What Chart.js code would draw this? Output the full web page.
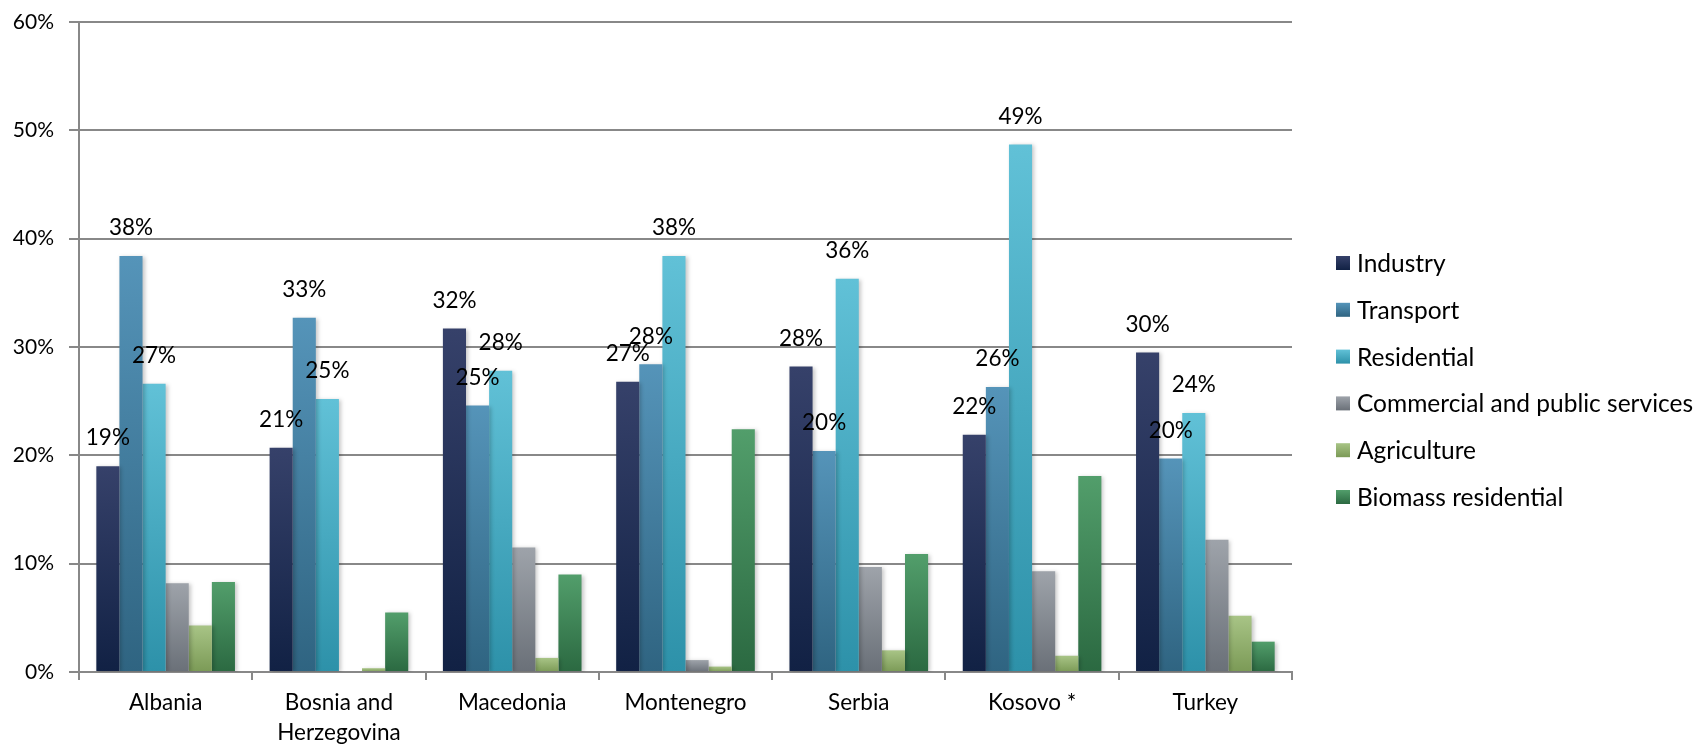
<!DOCTYPE html>
<html>
<head>
<meta charset="utf-8">
<script src="https://cdn.jsdelivr.net/npm/chart.js@4.4.0/dist/chart.umd.min.js"></script>
<style>
    html, body { margin: 0; padding: 0; background: #ffffff; }
    #wrap { width: 1702px; height: 750px; }
</style>
</head>
<body>
<div id="wrap"><canvas id="sectorChart" width="1702" height="750"></canvas></div>
<script>
// Share of final energy consumption by sector (%)
const countries = ['Albania', ['Bosnia and', 'Herzegovina'], 'Macedonia', 'Montenegro', 'Serbia', 'Kosovo *', 'Turkey'];

const industry    = [19.0, 20.7, 31.7, 26.8, 28.2, 21.9, 29.5];
const transport   = [38.4, 32.7, 24.6, 28.4, 20.4, 26.3, 19.7];
const residential = [26.6, 25.2, 27.8, 38.4, 36.3, 48.7, 23.9];
const commercial  = [8.2, 0.0, 11.5, 1.1, 9.7, 9.3, 12.2];
const agriculture = [4.3, 0.35, 1.3, 0.5, 2.0, 1.5, 5.2];
const biomass     = [8.3, 5.5, 9.0, 22.4, 10.9, 18.1, 2.8];

const yTicks = [0, 10, 20, 30, 40, 50, 60];

const FONT = 'Lato, "Open Sans", sans-serif';
const GRID = '#888888';

// top / bottom colours of each series gradient
const seriesStyle = [
    { label: 'Industry', data: industry, top: '#36416a', bottom: '#112144', labelled: true },
    { label: 'Transport', data: transport, top: '#5594b9', bottom: '#2f6481', labelled: true },
    { label: 'Residential', data: residential, top: '#61c1d7', bottom: '#2d91a9', labelled: true },
    { label: 'Commercial and public services', data: commercial, top: '#9ea3aa', bottom: '#6a7078', labelled: false },
    { label: 'Agriculture', data: agriculture, top: '#a8c486', bottom: '#7b9a56', labelled: false },
    { label: 'Biomass residential', data: biomass, top: '#529e6b', bottom: '#2b6941', labelled: false }
];

// vertical gradient per bar, from bar top to the zero line
function barGradient(top, bottom) {
    return function(context) {
        const chart = context.chart;
        if (!chart.chartArea || context.type !== 'data') return bottom;
        const y = chart.scales.y;
        const y0 = y.getPixelForValue(0);
        const y1 = y.getPixelForValue(context.raw);
        if (!isFinite(y1) || Math.abs(y0 - y1) < 1) return bottom;
        const g = chart.ctx.createLinearGradient(0, y1, 0, y0);
        g.addColorStop(0, top);
        g.addColorStop(1, bottom);
        return g;
    };
}

// soft drop shadow behind the bars
const barShadow = {
    id: 'barShadow',
    beforeDatasetsDraw(chart) {
        const ctx = chart.ctx;
        ctx.save();
        ctx.shadowColor = 'rgba(0, 0, 0, 0.22)';
        ctx.shadowBlur = 4;
        ctx.shadowOffsetX = 2;
        ctx.shadowOffsetY = 1;
    },
    afterDatasetsDraw(chart) {
        chart.ctx.restore();
    }
};

// percent labels above the first three series
const valueLabels = {
    id: 'valueLabels',
    afterDatasetsDraw(chart) {
        const ctx = chart.ctx;
        ctx.save();
        ctx.font = '22.5px ' + FONT;
        ctx.fillStyle = '#000000';
        ctx.textAlign = 'center';
        ctx.textBaseline = 'middle';
        chart.data.datasets.forEach((ds, i) => {
            if (!seriesStyle[i].labelled) return;
            chart.getDatasetMeta(i).data.forEach((bar, j) => {
                ctx.fillText(Math.round(ds.data[j]) + '%', bar.x, bar.y - 28);
            });
        });
        ctx.restore();
    }
};

// legend drawn on the right side
const sideLegend = {
    id: 'sideLegend',
    afterDraw(chart) {
        const ctx = chart.ctx;
        const x = 1336, y0 = 263, step = 46.8, box = 14;
        ctx.save();
        ctx.font = '24.5px ' + FONT;
        ctx.textAlign = 'left';
        ctx.textBaseline = 'middle';
        seriesStyle.forEach((s, i) => {
            const y = y0 + i * step;
            const g = ctx.createLinearGradient(0, y - box / 2, 0, y + box / 2);
            g.addColorStop(0, s.top);
            g.addColorStop(1, s.bottom);
            ctx.fillStyle = g;
            ctx.fillRect(x, y - box / 2, box, box);
            ctx.fillStyle = '#000000';
            ctx.fillText(s.label, 1357, y + 1);
        });
        ctx.restore();
    }
};

const data = {
    labels: countries,
    datasets: seriesStyle.map(s => ({
        label: s.label,
        data: s.data,
        backgroundColor: barGradient(s.top, s.bottom),
        borderWidth: 0,
        barPercentage: 1.0,
        categoryPercentage: 0.8
    }))
};

const config = {
    type: 'bar',
    data: data,
    options: {
        responsive: false,
        animation: false,
        layout: { padding: { top: 22, right: 410, bottom: 0, left: 0 } },
        scales: {
            x: {
                afterFit: axis => { axis.height = 78; },
                grid: { offset: true, drawOnChartArea: false, drawTicks: true, tickLength: 8, color: GRID, lineWidth: 2 },
                border: { color: GRID, width: 2 },
                ticks: { color: '#000000', font: { family: FONT, size: 22.5, lineHeight: 1.33 }, padding: 8, maxRotation: 0 }
            },
            y: {
                min: 0, max: 60,
                afterBuildTicks: axis => { axis.ticks = yTicks.map(v => ({ value: v })); },
                afterFit: axis => {
                    axis.width = 79;
                    // keep the wide tick padding from pushing the plot top down
                    axis.paddingTop = 0;
                    axis.paddingBottom = 0;
                },
                grid: { color: GRID, lineWidth: 2, tickLength: 10 },
                border: { color: GRID, width: 2 },
                ticks: {
                    color: '#000000', font: { family: FONT, size: 21 }, padding: 15,
                    callback: value => value + '%'
                }
            }
        },
        plugins: {
            legend: { display: false },
            tooltip: { enabled: false }
        }
    },
    plugins: [barShadow, valueLabels, sideLegend]
};

new Chart(document.getElementById('sectorChart').getContext('2d'), config);
</script>
</body>
</html>
